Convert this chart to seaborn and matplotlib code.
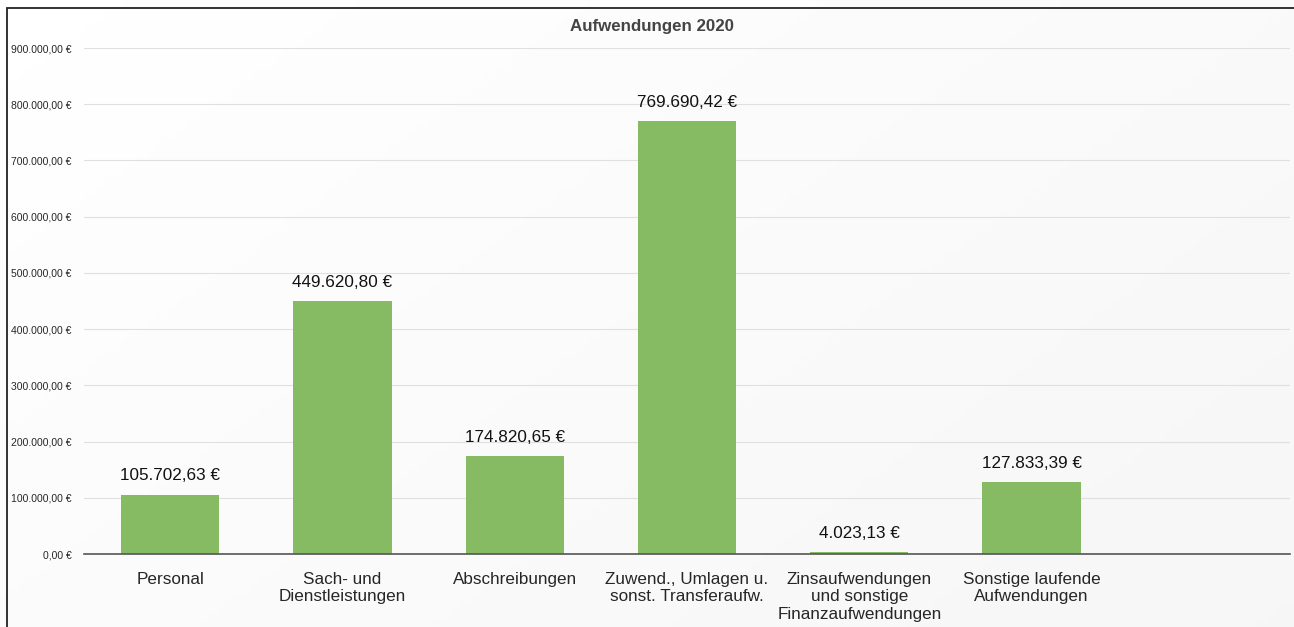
import numpy as np
import pandas as pd
import seaborn as sns
import matplotlib.pyplot as plt
from matplotlib.patches import Rectangle
from matplotlib.ticker import FuncFormatter

# data
categories = ["Personal", "Sach- und\nDienstleistungen", "Abschreibungen",
              "Zuwend., Umlagen u.\nsonst. Transferaufw.",
              "Zinsaufwendungen\nund sonstige\nFinanzaufwendungen",
              "Sonstige laufende\nAufwendungen"]
values = [105702.63, 449620.80, 174820.65, 769690.42, 4023.13, 127833.39]
value_labels = ["105.702,63 €", "449.620,80 €", "174.820,65 €", "769.690,42 €",
                "4.023,13 €", "127.833,39 €"]

d = pd.DataFrame({"kategorie": categories, "betrag": values})

sns.set_style("white")
plt.rcParams['font.family'] = ['Liberation Sans', 'DejaVu Sans']

fig = plt.figure(figsize=(12.94, 6.27), dpi=100)

# gradient background
bg = fig.add_axes([0, 0, 1, 1], zorder=-2)
gx, gy = np.meshgrid(np.linspace(0, 1, 200), np.linspace(0, 1, 100))
grad = (gx * 0.6 + gy * 0.4)
bg.imshow(grad, cmap="Greys", vmin=0, vmax=14, aspect="auto", extent=[0, 1, 0, 1])
bg.set_axis_off()
fig.patches.append(Rectangle((7 / 1294, -0.1), 1.2, 1 - 8 / 627 + 0.1,
                             transform=fig.transFigure, fill=False,
                             edgecolor="#222222", linewidth=1.3, zorder=5))

ax = fig.add_axes([84 / 1294, 1 - 554 / 627, 1206 / 1294, (554 - 48) / 627])
ax.patch.set_alpha(0)
sns.barplot(data=d, x="kategorie", y="betrag", color="#86BB64", saturation=1,
            width=0.57, linewidth=0, ax=ax, zorder=2)
ax.set_xlim(-0.5, 6.5)
ax.set_ylim(0, 900000)
ax.set_yticks(np.arange(0, 900001, 100000))
ax.yaxis.set_major_formatter(FuncFormatter(
    lambda v, p: f"{v:,.2f} €".replace(",", "X").replace(".", ",").replace("X", ".")))
ax.grid(axis="y", color="#e0e0e0", linewidth=0.8, zorder=0)
ax.tick_params(axis="y", labelsize=7.5, length=0, pad=9)
ax.tick_params(axis="x", labelsize=12.3, length=0, pad=13)
for s in ["left", "right", "top"]:
    ax.spines[s].set_visible(False)
ax.spines["bottom"].set_color("#555555")
ax.spines["bottom"].set_linewidth(1.2)
ax.spines["bottom"].set_zorder(3)
ax.set_xlabel("")
ax.set_ylabel("")

for i, (v, lab) in enumerate(zip(values, value_labels)):
    ax.annotate(lab, (i, v), xytext=(0, 8), textcoords="offset points",
                ha="center", va="bottom", fontsize=12.3, color="#111111")

fig.text(0.504, 1 - 27 / 627, "Aufwendungen 2020", ha="center", va="center",
         fontsize=12.2, fontweight="bold", color="#444444")

plt.savefig("out.png", dpi=100)
